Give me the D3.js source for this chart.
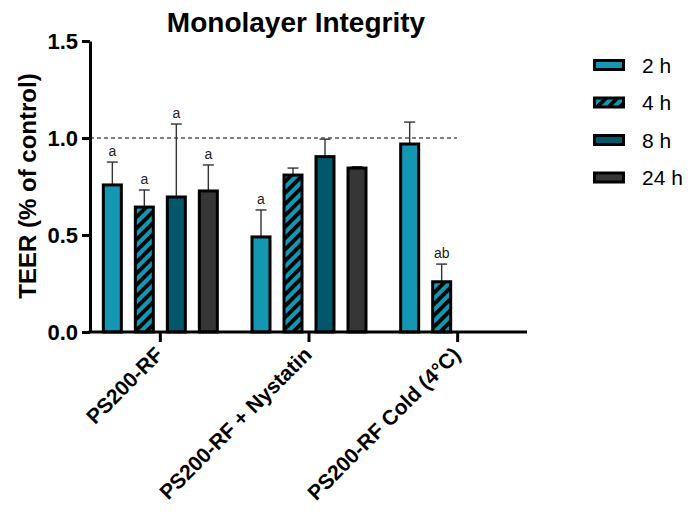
<!DOCTYPE html>
<html><head><meta charset="utf-8">
<script src="https://cdn.jsdelivr.net/npm/d3@7"></script>
<style>body{margin:0;background:#fff}svg{display:block}text{font-family:"Liberation Sans",Arial,sans-serif}</style>
</head><body><svg id="c" width="690" height="519"></svg>
<script>
const groups = ["PS200-RF", "PS200-RF + Nystatin", "PS200-RF Cold (4°C)"];
const series = ["2 h", "4 h", "8 h", "24 h"];
const means = [
  [0.758, 0.644, 0.696, 0.727],
  [0.490, 0.809, 0.904, 0.845],
  [0.969, 0.259, 0, 0]
];
const errTop = [
  [0.876, 0.732, 1.072, 0.861],
  [0.629, 0.845, 0.994, 0.852],
  [1.082, 0.350, null, null]
];
const sigLabels = [
  ["a", "a", "a", "a"],
  ["a", "", "", ""],
  ["", "ab", "", ""]
];
const yTicks = [0, 0.5, 1.0, 1.5];
const colors = ["#1497b3", "url(#hatch)", "#03576a", "#363636"];

const svg = d3.select("#c");
const defs = svg.append("defs");
const pat = defs.append("pattern").attr("id","hatch").attr("patternUnits","userSpaceOnUse")
  .attr("width",8).attr("height",8).attr("patternTransform","rotate(45)");
pat.append("rect").attr("width",8).attr("height",8).attr("fill","#1497b3");
pat.append("rect").attr("x",0).attr("width",3.8).attr("height",8).attr("fill","#000");

const y = d3.scaleLinear().domain([0,1.5]).range([332,41]);
const x0 = d3.scaleBand().domain(groups).range([86,532]);
const x1 = d3.scaleBand().domain(series).range([0,114]).paddingInner(0.4375);
const off = (x0.bandwidth()-114)/2;

// dashed reference line
svg.append("line").attr("x1",90).attr("x2",457).attr("y1",y(1)).attr("y2",y(1))
  .attr("stroke","#000").attr("stroke-width",1.2).attr("stroke-dasharray","4,3");

groups.forEach((g,gi)=>{
  const gx = x0(g)+off;
  series.forEach((s,si)=>{
    const v = means[gi][si];
    if (!v) return;
    const bx = gx + x1(s), bw = x1.bandwidth(), cx = bx + bw/2;
    const et = errTop[gi][si];
    if (et!=null){
      svg.append("line").attr("x1",cx).attr("x2",cx).attr("y1",y(v)).attr("y2",y(et))
        .attr("stroke","#333").attr("stroke-width",1.4);
      svg.append("line").attr("x1",cx-5.5).attr("x2",cx+5.5).attr("y1",y(et)).attr("y2",y(et))
        .attr("stroke","#333").attr("stroke-width",1.4);
    }
    svg.append("rect").attr("x",bx).attr("y",y(v)).attr("width",bw).attr("height",y(0)-y(v))
      .attr("fill",colors[si]).attr("stroke","#000").attr("stroke-width",3);
    const lab = sigLabels[gi][si];
    if (lab){
      svg.append("text").attr("x",cx).attr("y",y(et)-6).attr("text-anchor","middle")
        .attr("font-size",14).attr("fill","#222").text(lab);
    }
  });
});

// y axis
const yAx = svg.append("g").attr("transform","translate(90,0)")
  .call(d3.axisLeft(y).tickValues(yTicks).tickFormat(d3.format(".1f")).tickSize(8).tickSizeOuter(0));
yAx.select(".domain").attr("stroke","#000").attr("stroke-width",3);
yAx.selectAll(".tick line").attr("stroke","#000").attr("stroke-width",3);
yAx.selectAll(".tick text").attr("font-size",22).attr("font-weight","bold").attr("fill","#000")
  .attr("x",-12).attr("font-family","Liberation Sans, Arial, sans-serif");

// x axis
svg.append("line").attr("x1",88.5).attr("x2",527).attr("y1",y(0)).attr("y2",y(0))
  .attr("stroke","#000").attr("stroke-width",3);
groups.forEach(g=>{
  const cx = x0(g)+x0.bandwidth()/2;
  svg.append("line").attr("x1",cx).attr("x2",cx).attr("y1",y(0)).attr("y2",y(0)+10)
    .attr("stroke","#000").attr("stroke-width",3);
  svg.append("text").attr("transform",`translate(${cx+4},${y(0)+24}) rotate(-45)`)
    .attr("text-anchor","end").attr("font-size",21).attr("font-weight","bold").text(g);
});

// title & y label
svg.append("text").attr("x",296).attr("y",32).attr("text-anchor","middle")
  .attr("font-size",28).attr("font-weight","bold").text("Monolayer Integrity");
svg.append("text").attr("transform","translate(36,186) rotate(-90)").attr("text-anchor","middle")
  .attr("font-size",24).attr("font-weight","bold").text("TEER (% of control)");

// legend
series.forEach((s,si)=>{
  const ly = 65 + si*37.5;
  svg.append("rect").attr("x",594.5).attr("y",ly-4.5).attr("width",29).attr("height",9)
    .attr("fill",colors[si]).attr("stroke","#000").attr("stroke-width",3);
  svg.append("text").attr("x",642).attr("y",ly+7.5).attr("font-size",21).text(s);
});
</script></body></html>
